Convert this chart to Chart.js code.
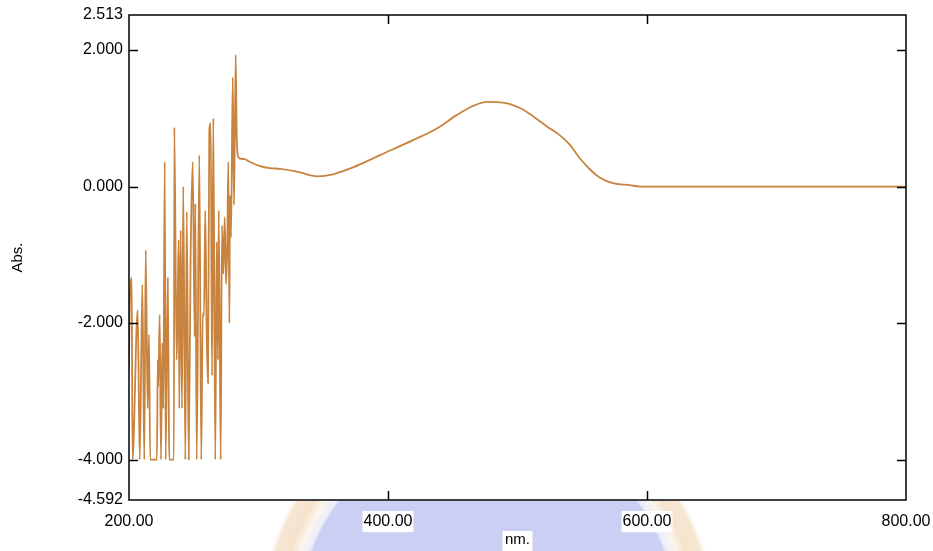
<!DOCTYPE html>
<html>
<head>
<meta charset="utf-8">
<script src="https://cdn.jsdelivr.net/npm/chart.js@4/dist/chart.umd.min.js"></script>
<style>
  html, body { margin: 0; padding: 0; background: #fff; }
  #wrap { width: 933px; height: 551px; }
</style>
</head>
<body>
<div id="wrap"><canvas id="specChart" width="933" height="551"></canvas></div>
<script>
// wavelength (nm) and absorbance
const wavelengths = [
  200.0, 200.4, 202.1, 202.7, 206.7, 208.3, 210.3, 211.8, 212.9, 214.4,
  215.4, 216.4, 221.6, 222.2, 222.6, 223.7, 224.7, 225.7, 226.5, 227.6,
  228.3, 229.9, 230.7, 231.1, 234.7, 235.0, 236.8, 237.6, 238.4, 238.8,
  239.9, 240.9, 241.9, 243.5, 244.6, 246.1, 247.6, 249.2, 250.7, 251.2,
  252.3, 254.3, 255.8, 256.9, 257.9, 258.9, 260.0, 261.0, 262.0, 263.1,
  264.1, 265.1, 266.6, 267.7, 268.7, 269.3, 270.8, 271.8, 272.8, 273.9,
  274.9, 275.9, 276.7, 277.5, 278.0, 278.8, 280.1, 281.1, 282.4, 283.2,
  284.4, 285.7, 289.6, 293.4, 301.2, 308.9, 316.6, 329.7, 345.2, 357.5,
  373.0, 393.8, 419.3, 437.8, 453.3, 465.6, 476.4, 488.8, 501.9, 512.0,
  522.8, 532.8, 540.5, 548.3, 556.0, 563.7, 573.7, 586.9, 594.6, 800.0
];
const absorbance = [
  -2.69, -1.96, -1.34, -4.00, -1.81, -4.00, -1.44, -4.00, -0.93, -3.25,
  -2.17, -4.00, -4.00, -2.54, -2.93, -1.88, -4.00, -2.29, -3.25, 0.36,
  -4.00, -1.34, -3.20, -4.00, -4.00, 0.87, -2.54, -1.63, -0.78, -3.25,
  -0.64, -3.25, 0.00, -4.00, -0.37, -4.00, -1.00, 0.36, -2.20, -0.25,
  -4.00, 0.46, -4.00, -1.86, -1.90, -0.35, -2.16, -2.88, 0.83, 0.93,
  -2.77, 1.00, -4.00, -0.81, -2.54, -0.35, -4.00, -0.57, -1.28, -0.45,
  -1.43, -0.84, 0.36, -2.00, -0.13, -0.74, 1.60, -0.27, 1.93, 0.73,
  0.43, 0.41, 0.40, 0.36, 0.30, 0.27, 0.26, 0.22, 0.15, 0.18,
  0.28, 0.46, 0.68, 0.85, 1.05, 1.18, 1.24, 1.23, 1.15, 1.03,
  0.88, 0.75, 0.61, 0.41, 0.25, 0.13, 0.05, 0.02, 0.00, 0.00
];
const xTicks = [200, 400, 600, 800];
const yTicks = [-4.592, -4, -2, 0, 2, 2.513];
const xMarks = [400, 600];
const yMarks = [-4, -2, 0, 2];

const points = wavelengths.map((w, i) => ({x: w, y: absorbance[i]}));

// faint logo behind the bottom of the picture + frame with inward ticks
const decor = {
  id: 'decor',
  beforeDraw(chart) {
    const ctx = chart.ctx;
    const area = chart.chartArea;
    ctx.save();
    ctx.beginPath();
    ctx.rect(0, area.bottom + 1, chart.width, chart.height - area.bottom);
    ctx.clip();
    const cx = 488, cy = 615;
    const g = ctx.createRadialGradient(cx, cy, 186, cx, cy, 228);
    g.addColorStop(0, '#cbcff3');
    g.addColorStop(0.08, '#eceefa');
    g.addColorStop(0.3, '#fbf5ee');
    g.addColorStop(0.5, '#f5e3cc');
    g.addColorStop(0.85, '#f6e6d3');
    g.addColorStop(1, 'rgba(255,255,255,0)');
    ctx.fillStyle = g;
    ctx.beginPath(); ctx.arc(cx, cy, 228, 0, Math.PI * 2); ctx.fill();
    ctx.fillStyle = '#cbcff3';
    ctx.beginPath(); ctx.arc(cx, cy, 187, 0, Math.PI * 2); ctx.fill();
    ctx.fillStyle = '#fff';
    ctx.fillRect((area.left + area.right) / 2 - 15, 531, 30, 20);
    ctx.restore();
  },
  afterDraw(chart) {
    const ctx = chart.ctx;
    const a = chart.chartArea;
    const xs = chart.scales.x, ys = chart.scales.y;
    ctx.save();
    ctx.strokeStyle = '#000';
    ctx.lineWidth = 1.5;
    ctx.strokeRect(a.left, a.top, a.right - a.left, a.bottom - a.top);
    ctx.beginPath();
    yMarks.forEach(v => {
      const y = Math.round(ys.getPixelForValue(v)) + 0.5;
      ctx.moveTo(a.left, y); ctx.lineTo(a.left + 9, y);
      ctx.moveTo(a.right, y); ctx.lineTo(a.right - 9, y);
    });
    xMarks.forEach(v => {
      const x = Math.round(xs.getPixelForValue(v)) + 0.5;
      ctx.moveTo(x, a.bottom); ctx.lineTo(x, a.bottom - 9);
      ctx.moveTo(x, a.top); ctx.lineTo(x, a.top + 9);
    });
    ctx.stroke();
    ctx.restore();
  }
};

const tickFont = {family: 'Liberation Sans', size: 16};

new Chart(document.getElementById('specChart').getContext('2d'), {
  type: 'line',
  data: {
    datasets: [{
      data: points,
      borderColor: '#c8843f',
      borderWidth: 1.8,
      pointRadius: 0,
      fill: false,
      cubicInterpolationMode: 'monotone'
    }]
  },
  options: {
    responsive: false,
    animation: false,
    layout: {padding: {top: 15, right: 27, left: 0, bottom: 0}},
    plugins: {legend: {display: false}, tooltip: {enabled: false}},
    scales: {
      x: {
        type: 'linear',
        min: 200,
        max: 800,
        afterBuildTicks: s => { s.ticks = xTicks.map(v => ({value: v})); },
        afterFit: s => { s.height = 51; s.paddingLeft = 0; s.paddingRight = 0; },
        grid: {display: false, drawTicks: false},
        border: {display: false},
        ticks: {
          autoSkip: false,
          maxRotation: 0,
          padding: 12,
          color: '#000',
          font: tickFont,
          showLabelBackdrop: true,
          backdropColor: '#fff',
          backdropPadding: 1,
          callback: v => Number(v).toFixed(2)
        },
        title: {
          display: true,
          text: 'nm.',
          color: '#000',
          font: {family: 'Liberation Sans', size: 15},
          padding: {top: 0, bottom: 2}
        }
      },
      y: {
        type: 'linear',
        min: -4.592,
        max: 2.513,
        afterBuildTicks: s => { s.ticks = yTicks.map(v => ({value: v})); },
        afterFit: s => { s.width = 129; s.paddingTop = 0; s.paddingBottom = 0; },
        grid: {display: false, drawTicks: false},
        border: {display: false},
        ticks: {
          autoSkip: false,
          padding: 6,
          color: '#000',
          font: tickFont,
          callback: v => Number(v).toFixed(3)
        },
        title: {
          display: true,
          text: 'Abs.',
          color: '#000',
          font: {family: 'Liberation Sans', size: 15},
          padding: {top: 9, bottom: 0}
        }
      }
    }
  },
  plugins: [decor]
});
</script>
</body>
</html>
